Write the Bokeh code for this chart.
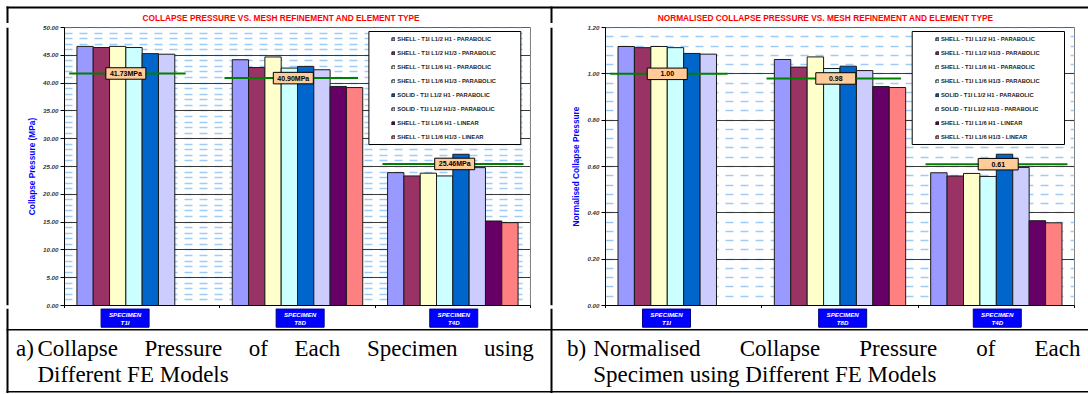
from bokeh.plotting import figure
from bokeh.models import (Range1d, FixedTicker, SingleIntervalTicker, NumeralTickFormatter,
                          BoxAnnotation, Legend, LegendItem, ColumnDataSource)
from bokeh.layouts import row, column
from bokeh.core.properties import value
from bokeh.embed import file_html
from bokeh.resources import INLINE

# ---------------- data ----------------
categories = ["T1I", "T8D", "T4D"]
category_labels = ["SPECIMEN\nT1I", "SPECIMEN\nT8D", "SPECIMEN\nT4D"]
series_names = [
    "SHELL - T1I L1/2 H1 - PARABOLIC",
    "SHELL - T1I L1/2 H1/3 - PARABOLIC",
    "SHELL - T1I L1/6 H1 - PARABOLIC",
    "SHELL - T1I L1/6 H1/3 - PARABOLIC",
    "SOLID - T1I L1/2 H1 - PARABOLIC",
    "SOLID - T1I L1/2 H1/3 - PARABOLIC",
    "SHELL - T1I L1/6 H1 - LINEAR",
    "SHELL - T1I L1/6 H1/3 - LINEAR",
]
series_colors = ["#9999FF", "#993366", "#FFFFCC", "#CCFFFF",
                 "#0066CC", "#CCCCFF", "#660066", "#FF8080"]

collapse_T1I = [46.6, 46.4, 46.6, 46.4, 45.3, 45.2, None, None]
collapse_T8D = [44.2, 42.8, 44.7, 42.7, 43.0, 42.4, 39.4, 39.2]
collapse_T4D = [23.9, 23.3, 23.8, 23.3, 27.2, 24.8, 15.2, 14.9]

norm_T1I = [1.118, 1.113, 1.118, 1.113, 1.088, 1.085, None, None]
norm_T8D = [1.062, 1.029, 1.073, 1.023, 1.033, 1.014, 0.945, 0.941]
norm_T4D = [0.573, 0.559, 0.570, 0.557, 0.653, 0.596, 0.366, 0.357]

experimental = [41.73, 40.90, 25.46]
experimental_labels = ["41.73MPa", "40.90MPa", "25.46MPa"]
norm_experimental = [1.00, 0.98, 0.61]
norm_experimental_labels = ["1.00", "0.98", "0.61"]

title_left = "COLLAPSE PRESSURE VS. MESH REFINEMENT AND ELEMENT TYPE"
title_right = "NORMALISED COLLAPSE PRESSURE VS. MESH REFINEMENT AND ELEMENT TYPE"
ytitle_left = "Collapse Pressure (MPa)"
ytitle_right = "Normalised Collapse Pressure"

# ---------------- layout constants (canvas pixels) ----------------
TOTAL_W = 1088
TOP_H = 23          # strip with top border + chart titles
CHART_Y0, CHART_Y1 = 23, 308
BOTTOM_Y0 = 308
SLOT = 0.105
GAP = (1 - 8 * SLOT) / 2
LINE_SPAN = [(0.03, 0.78), (0.03, 0.89), (0.047, 0.955)]
LABEL_POS = [0.395, 0.473, 0.512]
CAT_POS = [0.39, 0.517, 0.506]

C1 = dict(x0=9, x1=549, FL=64, FR=530, FT=27, FB=305)
C2 = dict(x0=553, x1=1088, FL=605, FR=1074, FT=27, FB=305)


def px_fig(x0, y0, w, h):
    f = figure(width=w, height=h, x_range=Range1d(x0, x0 + w), y_range=Range1d(y0 + h, y0),
               x_axis_type=None, y_axis_type=None, output_backend="svg",
               toolbar_location=None, min_border=0)
    f.outline_line_color = None
    f.background_fill_color = "white"
    f.border_fill_color = "white"
    return f


def rule(f, x0, x1, y0, y1):
    f.quad(left=[x0], right=[x1], top=[y0], bottom=[y1], fill_color="black", line_color=None)


def build_chart(cfg, table, ymax, yint, ref_vals, ref_labels, ytitle, legend_box, legend_glyph_x):
    W = cfg["x1"] - cfg["x0"]
    Hc = CHART_Y1 - CHART_Y0
    p = figure(width=W, height=Hc, x_range=Range1d(0, 3), y_range=Range1d(0, ymax * 1.0000001),
               output_backend="svg", toolbar_location=None,
               min_border_left=cfg["FL"] - cfg["x0"], min_border_right=cfg["x1"] - cfg["FR"],
               min_border_top=cfg["FT"] - CHART_Y0, min_border_bottom=CHART_Y1 - cfg["FB"])
    p.background_fill_color = "white"
    p.border_fill_color = "white"
    p.outline_line_color = "#808080"

    yt = SingleIntervalTicker(interval=yint, num_minor_ticks=5)
    p.yaxis.ticker = yt
    p.ygrid.ticker = yt
    p.yaxis.formatter = NumeralTickFormatter(format="0.00")
    p.yaxis.major_label_text_font = "Liberation Sans"
    p.yaxis.major_label_text_font_style = "bold italic"
    p.yaxis.major_label_text_font_size = "6.2px"
    p.yaxis.major_label_text_color = "#333333"
    p.yaxis.major_label_standoff = 2
    p.yaxis.major_tick_in = 0
    p.yaxis.major_tick_out = 4
    p.yaxis.minor_tick_line_color = None
    p.yaxis.axis_line_color = "black"
    p.yaxis.major_tick_line_color = "black"
    p.yaxis.axis_label = ytitle
    p.yaxis.axis_label_text_font = "Liberation Sans"
    p.yaxis.axis_label_text_font_style = "bold"
    p.yaxis.axis_label_text_font_size = "8.3px"
    p.yaxis.axis_label_text_color = "#0000FF"
    p.yaxis.axis_label_standoff = 3

    # x axis: only boundary tick marks between the specimen groups (no tick labels)
    p.xaxis.ticker = FixedTicker(ticks=[], minor_ticks=[0, 1, 2, 3])
    p.xaxis.major_tick_line_color = None
    p.xaxis.minor_tick_in = 0
    p.xaxis.minor_tick_out = 3
    p.xaxis.minor_tick_line_color = "black"
    p.xaxis.axis_line_color = "black"

    p.xgrid.grid_line_color = None
    p.ygrid.grid_line_color = "#3a3a3a"
    p.ygrid.grid_line_width = 1
    p.ygrid.minor_grid_line_color = "#9FCBF7"
    p.ygrid.minor_grid_line_width = 1.6
    p.ygrid.minor_grid_line_dash = "8 7"

    renderers = []
    for j, name in enumerate(series_names):
        xs, tops = [], []
        for i, cat_vals in enumerate(table):
            v = cat_vals[j]
            if v is not None:
                xs.append(i + GAP + (j + 0.5) * SLOT)
                tops.append(v)
        src = ColumnDataSource(dict(x=xs, top=tops))
        r = p.vbar(x="x", top="top", bottom=0, width=SLOT, source=src,
                   fill_color=series_colors[j], line_color="#1a1a1a", line_width=1)
        renderers.append(r)

    seg = ColumnDataSource(dict(
        x0=[i + LINE_SPAN[i][0] for i in range(3)],
        x1=[i + LINE_SPAN[i][1] for i in range(3)],
        y=ref_vals))
    p.segment(x0="x0", x1="x1", y0="y", y1="y", source=seg, line_color="#008000", line_width=2)
    lab = ColumnDataSource(dict(x=[i + LABEL_POS[i] for i in range(3)], y=ref_vals, t=ref_labels))
    p.rect(x="x", y="y", width=40, height=11.5, width_units="screen", height_units="screen",
           source=lab, fill_color="#FFCC99", line_color="black", line_width=1)
    p.text(x="x", y="y", text="t", source=lab, text_font=value("Liberation Sans"),
           text_font_style="bold", text_font_size="7px", text_align="center",
           text_baseline="middle", text_color="black")

    # legend frame (white box) and legend
    lx0, lx1, ly0, ly1 = legend_box
    p.add_layout(BoxAnnotation(left=lx0 - cfg["FL"], right=lx1 - cfg["FL"],
                               top=cfg["FB"] - ly0, bottom=cfg["FB"] - ly1,
                               left_units="screen", right_units="screen",
                               top_units="screen", bottom_units="screen",
                               fill_color="white", fill_alpha=1, line_color="black",
                               line_width=1, line_alpha=1))
    legend = Legend(items=[LegendItem(label=n, renderers=[r]) for n, r in zip(series_names, renderers)],
                    location=(legend_glyph_x - cfg["FL"], cfg["FB"] - 141.3))
    legend.padding = 0
    legend.margin = 0
    legend.spacing = 6
    legend.label_height = 8
    legend.glyph_height = 4
    legend.glyph_width = 4
    legend.label_standoff = 2
    legend.border_line_alpha = 0
    legend.background_fill_alpha = 0
    legend.label_text_font = "Liberation Sans"
    legend.label_text_font_size = "5.8px"
    legend.label_text_font_style = "bold"
    legend.label_text_color = "#222222"
    p.add_layout(legend)
    return p


p1 = build_chart(C1, [collapse_T1I, collapse_T8D, collapse_T4D], 50, 5,
                 experimental, experimental_labels, ytitle_left, (368.4, 520.3, 31, 144), 391.3)
p2 = build_chart(C2, [norm_T1I, norm_T8D, norm_T4D], 1.2, 0.2,
                 norm_experimental, norm_experimental_labels, ytitle_right, (911.7, 1064, 31, 144), 935)

# ---------------- top strip: border + titles ----------------
top = px_fig(0, 0, TOTAL_W, TOP_H)
rule(top, 6, TOTAL_W, 6, 8)
rule(top, 6, 8, 6, TOP_H)
rule(top, 550, 552, 6, TOP_H)
tsrc = ColumnDataSource(dict(x=[280.7, 825], y=[17.4, 17.4], t=[title_left, title_right]))
top.text(x="x", y="y", text="t", source=tsrc, text_font=value("Liberation Sans"),
         text_font_style="bold", text_font_size="8.3px", text_color="#FF0000",
         text_align="center", text_baseline="middle")

# ---------------- side strips ----------------
left_strip = px_fig(0, CHART_Y0, C1["x0"], CHART_Y1 - CHART_Y0)
rule(left_strip, 6, 8, CHART_Y0, CHART_Y1)
mid_strip = px_fig(C1["x1"], CHART_Y0, C2["x0"] - C1["x1"], CHART_Y1 - CHART_Y0)
rule(mid_strip, 550, 552, CHART_Y0, CHART_Y1)

# ---------------- bottom: category boxes + captions ----------------
bot = px_fig(0, BOTTOM_Y0, TOTAL_W, 394 - BOTTOM_Y0)
rule(bot, 6, 8, BOTTOM_Y0, 392.5)
rule(bot, 550, 552, BOTTOM_Y0, 392.5)
rule(bot, 6, TOTAL_W, 328.5, 330)
rule(bot, 6, TOTAL_W, 390.5, 392)

cx = []
for cfg in (C1, C2):
    cw = (cfg["FR"] - cfg["FL"]) / 3
    cx += [cfg["FL"] + (i + CAT_POS[i]) * cw for i in range(3)]
csrc = ColumnDataSource(dict(x=cx, t=category_labels * 2))
bot.rect(x="x", y=317.5, width=48, height=18.4, source=csrc,
         fill_color="#0000FF", line_color="#000080", line_width=1)
bot.text(x="x", y=317.8, text="t", source=csrc, text_font=value("Liberation Sans"),
         text_font_style="bold italic", text_font_size="6.2px", text_color="white",
         text_align="center", text_baseline="middle", text_line_height=1.15)

CAP_SIZE = "23px"
cap_words = [
    ("a)", 15.6, 348, "left"), ("Collapse", 37, 348, "left"), ("Pressure", 143.9, 348, "left"),
    ("of", 248.3, 348, "left"), ("Each", 293.9, 348, "left"), ("Specimen", 366.4, 348, "left"),
    ("using", 533.3, 348, "right"),
    ("Different FE Models", 37, 374, "left"),
    ("b)", 566.5, 348, "left"), ("Normalised", 592.8, 348, "left"), ("Collapse", 739.2, 348, "left"),
    ("Pressure", 858.8, 348, "left"), ("of", 975.7, 348, "left"), ("Each", 1080, 348, "right"),
    ("Specimen using Different FE Models", 592.8, 374, "left"),
]
for al in ("left", "right"):
    items = [w for w in cap_words if w[3] == al]
    src = ColumnDataSource(dict(t=[w[0] for w in items], x=[w[1] for w in items], y=[w[2] for w in items]))
    bot.text(x="x", y="y", text="t", source=src, text_font=value("Liberation Serif"),
             text_font_size=CAP_SIZE, text_color="black", text_align=al, text_baseline="alphabetic")

layout = column(top, row(left_strip, p1, mid_strip, p2), bot)
open("out.html", "w").write(file_html(layout, INLINE))
